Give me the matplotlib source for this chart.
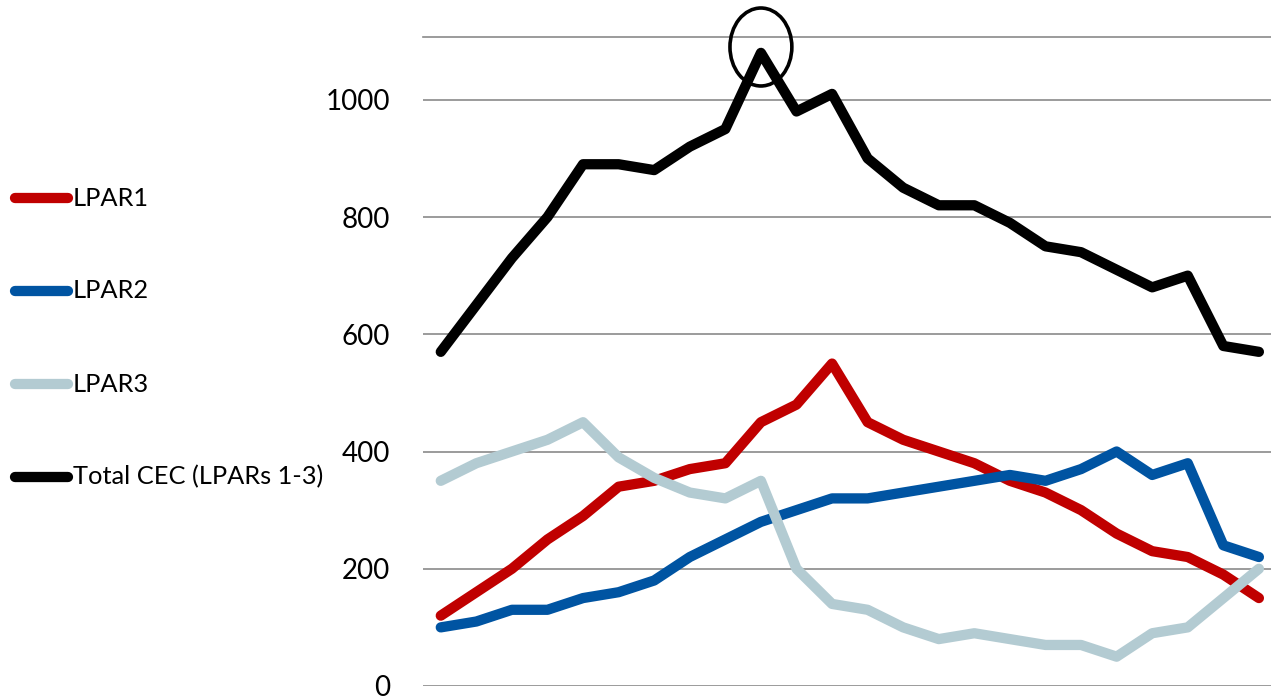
import matplotlib
matplotlib.use("Agg")
import matplotlib.pyplot as plt
from matplotlib.lines import Line2D
from matplotlib.patches import Ellipse
import numpy as np

plt.rcParams['font.family'] = ['Lato', 'DejaVu Sans']

# CEC per interval, one value per sample
lpar1 = [120, 160, 200, 250, 290, 340, 350, 370, 380, 450, 480, 550,
         450, 420, 400, 380, 350, 330, 300, 260, 230, 220, 190, 150]
lpar2 = [100, 110, 130, 130, 150, 160, 180, 220, 250, 280, 300, 320,
         320, 330, 340, 350, 360, 350, 370, 400, 360, 380, 240, 220]
lpar3 = [350, 380, 400, 420, 450, 390, 355, 330, 320, 350, 200, 140,
         130, 100, 80, 90, 80, 70, 70, 50, 90, 100, 150, 200]
total = [570, 650, 730, 800, 890, 890, 880, 920, 950, 1080, 980, 1010,
         900, 850, 820, 820, 790, 750, 740, 710, 680, 700, 580, 570]

labels = ['LPAR1', 'LPAR2', 'LPAR3', 'Total CEC (LPARs 1-3)']
colors = ['#C00000', '#0054A2', '#B3CBD2', '#000000']
yticks = [0, 200, 400, 600, 800, 1000]
grid_col = '#8A8A8A'

fig = plt.figure(figsize=(12.71, 7.0), dpi=100)
ax = fig.add_axes([0.3328, 0.02, 0.6672, 0.9271])

x = np.arange(len(total))
for ys, c in zip([lpar1, lpar2, lpar3, total], colors):
    ax.plot(x, ys, color=c, lw=7.4, solid_capstyle='round',
            solid_joinstyle='round', zorder=3)

# circle the peak of the total
pk = int(np.argmax(total))
ax.add_patch(Ellipse((pk, total[pk] + 10), 1.74, 133, fill=False,
                     ec='black', lw=2.6, clip_on=False, zorder=4))

ax.set_xlim(-0.5, 23.34)
ax.set_ylim(0, 1107)
ax.set_yticks(yticks)
ax.set_xticks([])
ax.yaxis.grid(True, color=grid_col, lw=1.2)
ax.set_axisbelow(True)
for s in ['left', 'right', 'bottom']:
    ax.spines[s].set_visible(False)
ax.spines['top'].set_color(grid_col)
ax.spines['top'].set_linewidth(1.2)
ax.tick_params(axis='y', length=0, pad=23.5, labelsize=20)

# legend stacked down the left side
leg_y = [198, 291, 384, 477]
for lab, c, py in zip(labels, colors, leg_y):
    fy = 1 - py / 700
    fig.add_artist(Line2D([15 / 1271, 68 / 1271], [fy, fy], color=c, lw=7.4,
                          solid_capstyle='round'))
    fig.text(73 / 1271, fy, lab, fontsize=18.3, va='center', ha='left')

fig.savefig('out.png', dpi=100)
